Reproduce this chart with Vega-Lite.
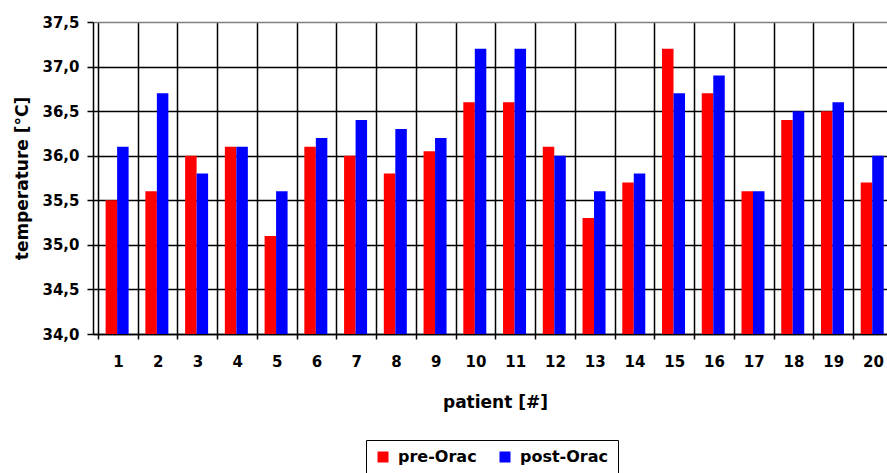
{
  "$schema": "https://vega.github.io/schema/vega-lite/v6.json",
  "width": 794,
  "height": 312,
  "autosize": {"type": "none"},
  "padding": {"left": 93, "top": 22, "right": 0, "bottom": 139},
  "background": "white",
  "config": {"view": {"stroke": null}, "font": "DejaVu Sans"},
  "data": {"values": [
    {"patient": 1, "series": "pre-Orac", "temperature": 35.5},
    {"patient": 1, "series": "post-Orac", "temperature": 36.1},
    {"patient": 2, "series": "pre-Orac", "temperature": 35.6},
    {"patient": 2, "series": "post-Orac", "temperature": 36.7},
    {"patient": 3, "series": "pre-Orac", "temperature": 36.0},
    {"patient": 3, "series": "post-Orac", "temperature": 35.8},
    {"patient": 4, "series": "pre-Orac", "temperature": 36.1},
    {"patient": 4, "series": "post-Orac", "temperature": 36.1},
    {"patient": 5, "series": "pre-Orac", "temperature": 35.1},
    {"patient": 5, "series": "post-Orac", "temperature": 35.6},
    {"patient": 6, "series": "pre-Orac", "temperature": 36.1},
    {"patient": 6, "series": "post-Orac", "temperature": 36.2},
    {"patient": 7, "series": "pre-Orac", "temperature": 36.0},
    {"patient": 7, "series": "post-Orac", "temperature": 36.4},
    {"patient": 8, "series": "pre-Orac", "temperature": 35.8},
    {"patient": 8, "series": "post-Orac", "temperature": 36.3},
    {"patient": 9, "series": "pre-Orac", "temperature": 36.05},
    {"patient": 9, "series": "post-Orac", "temperature": 36.2},
    {"patient": 10, "series": "pre-Orac", "temperature": 36.6},
    {"patient": 10, "series": "post-Orac", "temperature": 37.2},
    {"patient": 11, "series": "pre-Orac", "temperature": 36.6},
    {"patient": 11, "series": "post-Orac", "temperature": 37.2},
    {"patient": 12, "series": "pre-Orac", "temperature": 36.1},
    {"patient": 12, "series": "post-Orac", "temperature": 36.0},
    {"patient": 13, "series": "pre-Orac", "temperature": 35.3},
    {"patient": 13, "series": "post-Orac", "temperature": 35.6},
    {"patient": 14, "series": "pre-Orac", "temperature": 35.7},
    {"patient": 14, "series": "post-Orac", "temperature": 35.8},
    {"patient": 15, "series": "pre-Orac", "temperature": 37.2},
    {"patient": 15, "series": "post-Orac", "temperature": 36.7},
    {"patient": 16, "series": "pre-Orac", "temperature": 36.7},
    {"patient": 16, "series": "post-Orac", "temperature": 36.9},
    {"patient": 17, "series": "pre-Orac", "temperature": 35.6},
    {"patient": 17, "series": "post-Orac", "temperature": 35.6},
    {"patient": 18, "series": "pre-Orac", "temperature": 36.4},
    {"patient": 18, "series": "post-Orac", "temperature": 36.5},
    {"patient": 19, "series": "pre-Orac", "temperature": 36.5},
    {"patient": 19, "series": "post-Orac", "temperature": 36.6},
    {"patient": 20, "series": "pre-Orac", "temperature": 35.7},
    {"patient": 20, "series": "post-Orac", "temperature": 36.0}
  ]},
  "encoding": {
    "x": {
      "field": "patient",
      "type": "quantitative",
      "scale": {"domain": [0.5, 20.227], "nice": false, "zero": false},
      "axis": {
        "title": "patient [#]",
        "values": [0.5, 1, 1.5, 2, 2.5, 3, 3.5, 4, 4.5, 5, 5.5, 6, 6.5, 7, 7.5, 8, 8.5, 9, 9.5, 10, 10.5, 11, 11.5, 12, 12.5, 13, 13.5, 14, 14.5, 15, 15.5, 16, 16.5, 17, 17.5, 18, 18.5, 19, 19.5, 20],
        "labelExpr": "datum.value % 1 === 0 ? format(datum.value, 'd') : ''",
        "labelOverlap": false,
        "labelFlush": false,
        "labelBound": false,
        "grid": true,
        "gridColor": {"condition": {"test": "datum.value % 1 === 0", "value": "transparent"}, "value": "#000000"},
        "gridWidth": 1.5,
        "ticks": true,
        "tickColor": {"condition": {"test": "datum.value % 1 === 0", "value": "transparent"}, "value": "#000000"},
        "tickWidth": 1.5,
        "tickSize": 5,
        "domainColor": "#000000",
        "domainWidth": 1.5,
        "labelFont": "DejaVu Sans",
        "labelFontSize": 15,
        "labelFontWeight": "bold",
        "labelColor": "#000000",
        "labelPadding": 15,
        "titleFont": "DejaVu Sans",
        "titleFontSize": 17,
        "titleFontWeight": "bold",
        "titleColor": "#000000",
        "titlePadding": 25,
        "titleX": 402
      }
    },
    "y": {
      "field": "temperature",
      "type": "quantitative",
      "scale": {"domain": [34, 37.5], "nice": false, "zero": false},
      "axis": {
        "title": "temperature [°C]",
        "values": [34, 34.5, 35, 35.5, 36, 36.5, 37, 37.5],
        "labelExpr": "replace(format(datum.value, '.1f'), '.', ',')",
        "grid": true,
        "gridColor": {"condition": {"test": "datum.value === 37.5", "value": "#808080"}, "value": "#000000"},
        "gridWidth": 1.5,
        "tickColor": "#000000",
        "tickWidth": 1.5,
        "tickSize": 6,
        "domainColor": "#000000",
        "domainWidth": 1.5,
        "labelFont": "DejaVu Sans",
        "labelFontSize": 15,
        "labelFontWeight": "bold",
        "labelColor": "#000000",
        "labelPadding": 8,
        "titleFont": "DejaVu Sans",
        "titleFontSize": 17,
        "titleFontWeight": "bold",
        "titleColor": "#000000",
        "titlePadding": 10
      }
    },
    "y2": {"datum": 34},
    "color": {
      "field": "series",
      "type": "nominal",
      "scale": {"domain": ["pre-Orac", "post-Orac"], "range": ["#ff0000", "#0000ff"]},
      "legend": {
        "title": null,
        "orient": "none",
        "legendX": 273,
        "legendY": 418,
        "direction": "horizontal",
        "strokeColor": "#000000",
        "fillColor": "#ffffff",
        "padding": 9,
        "symbolType": "square",
        "symbolSize": 121,
        "symbolStrokeWidth": 0,
        "symbolOpacity": 1,
        "labelFont": "DejaVu Sans",
        "labelFontSize": 16,
        "labelFontWeight": "bold",
        "labelColor": "#000000",
        "labelOffset": 7,
        "columnPadding": 20
      }
    }
  },
  "layer": [
    {
      "transform": [{"filter": "datum.series === 'pre-Orac'"}],
      "mark": {"type": "bar", "width": 11.5, "xOffset": -6.5, "clip": true, "opacity": 1}
    },
    {
      "transform": [{"filter": "datum.series === 'post-Orac'"}],
      "mark": {"type": "bar", "width": 11.5, "xOffset": 5, "clip": true, "opacity": 1}
    }
  ]
}
